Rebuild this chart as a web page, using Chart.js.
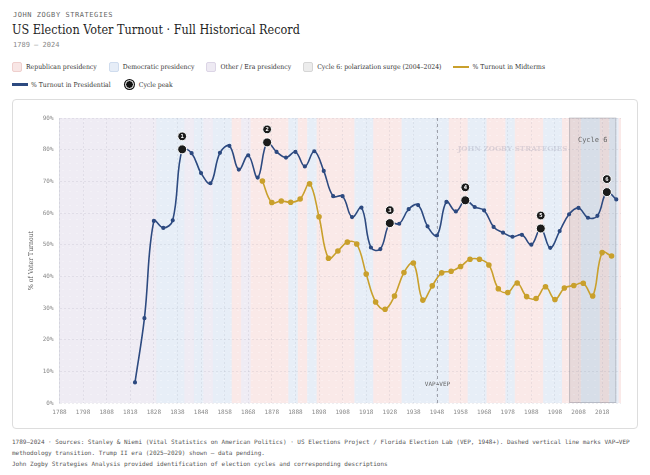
<!DOCTYPE html>
<html>
<head>
<meta charset="utf-8">
<script src="https://cdn.jsdelivr.net/npm/chart.js@4.4.0/dist/chart.umd.min.js"></script>
<style>
  body { margin: 0; background: #fff; width: 650px; height: 475px; position: relative; overflow: hidden; color: #222; }
  .serif { font-family: "DejaVu Serif Condensed", "DejaVu Serif", serif; }
  .mono { font-family: "DejaVu Sans Mono", monospace; }
  #brand { position: absolute; left: 13px; top: 11px; font-size: 7px; letter-spacing: 0.55px; color: #666; }
  #title { position: absolute; left: 12px; top: 22px; margin: 0; font-weight: normal; font-size: 12.5px; color: #1f1f1f; white-space: nowrap; }
  #range { position: absolute; left: 13px; top: 41px; font-size: 7px; color: #888; }
  .legrow { position: absolute; left: 12px; display: flex; align-items: center; font-size: 6.8px; color: #333; white-space: nowrap; }
  .item { display: flex; align-items: center; margin-right: 12px; }
  .box { width: 10px; height: 10px; border-radius: 2px; margin-right: 4px; box-sizing: border-box; }
  .ln { width: 16px; height: 2.5px; margin-right: 3px; }
  .dot { width: 7px; height: 7px; border-radius: 50%; background: #111; border: 1.5px solid #fff; box-shadow: 0 0 0 1px #111; margin: 0 5px 0 2px; }
  #card { position: absolute; left: 12px; top: 99px; width: 624px; height: 328px; border: 1px solid #ddd; border-radius: 4px; }
  #foot { position: absolute; left: 12px; top: 436px; font-size: 6px; line-height: 11px; color: #555; width: 630px; }
</style>
</head>
<body>
<div id="brand" class="mono">JOHN ZOGBY STRATEGIES</div>
<h1 id="title" class="serif">US Election Voter Turnout · Full Historical Record</h1>
<div id="range" class="mono">1789 – 2024</div>
<div class="legrow serif" style="top:62px">
  <div class="item"><span class="box" style="background:#f8e6e5;border:1px solid #efcfcd"></span>Republican presidency</div>
  <div class="item"><span class="box" style="background:#e6edf7;border:1px solid #cfdcee"></span>Democratic presidency</div>
  <div class="item"><span class="box" style="background:#eeeaf3;border:1px solid #dcd5e6"></span>Other / Era presidency</div>
  <div class="item"><span class="box" style="background:#ececec;border:1px solid #d6d6d6"></span>Cycle 6: polarization surge (2004–2024)</div>
  <div class="item"><span class="ln" style="background:#c9a02c"></span>% Turnout in Midterms</div>
</div>
<div class="legrow serif" style="top:80px">
  <div class="item"><span class="ln" style="background:#2d4a80"></span>% Turnout in Presidential</div>
  <div class="item"><span class="dot"></span>Cycle peak</div>
</div>
<div id="card"><canvas id="myChart" width="624" height="328"></canvas></div>
<div id="foot" class="mono">1789–2024 · Sources: Stanley &amp; Niemi (Vital Statistics on American Politics) · US Elections Project / Florida Election Lab (VEP, 1948+). Dashed vertical line marks VAP→VEP<br>methodology transition. Trump II era (2025–2029) shown — data pending.<br>John Zogby Strategies Analysis provided identification of election cycles and corresponding descriptions</div>

<script>
var presYears = [1820, 1824, 1828, 1832, 1836, 1840, 1844, 1848, 1852, 1856, 1860, 1864, 1868, 1872, 1876,
  1880, 1884, 1888, 1892, 1896, 1900, 1904, 1908, 1912, 1916, 1920, 1924, 1928, 1932, 1936, 1940, 1944,
  1948, 1952, 1956, 1960, 1964, 1968, 1972, 1976, 1980, 1984, 1988, 1992, 1996, 2000, 2004, 2008, 2012,
  2016, 2020, 2024]
var presTurnout = [6.5, 26.8, 57.5, 55.3, 57.7, 80.1, 78.9, 72.6, 69.4, 79.0, 81.2, 73.7, 78.2, 71.2, 82.3,
  79.3, 77.5, 79.3, 74.7, 79.5, 73.3, 65.3, 65.3, 58.7, 61.7, 49.1, 48.6, 56.8, 56.6, 61.2, 62.5, 55.8,
  52.9, 63.5, 60.5, 64.0, 61.9, 60.8, 55.6, 53.8, 52.5, 53.1, 50.0, 55.1, 49.0, 54.3, 59.6, 61.6, 58.5,
  59.1, 66.6, 64.3]
var midYears = [1874, 1878, 1882, 1886, 1890, 1894, 1898, 1902, 1906, 1910, 1914, 1918, 1922, 1926, 1930,
  1934, 1938, 1942, 1946, 1950, 1954, 1958, 1962, 1966, 1970, 1974, 1978, 1982, 1986, 1990, 1994, 1998,
  2002, 2006, 2010, 2014, 2018, 2022]
var midTurnout = [70.1, 63.3, 63.8, 63.4, 64.4, 69.2, 58.8, 45.7, 48.0, 50.8, 50.2, 40.7, 31.9, 29.6, 33.8,
  41.2, 44.2, 32.5, 37.0, 41.1, 41.6, 43.1, 45.4, 45.4, 43.6, 36.1, 34.9, 37.9, 33.6, 33.0, 36.7, 32.7,
  36.3, 37.1, 37.8, 33.8, 47.5, 46.4]

var xTickYears = [1788, 1798, 1808, 1818, 1828, 1838, 1848, 1858, 1868, 1878, 1888, 1898, 1908, 1918,
  1928, 1938, 1948, 1958, 1968, 1978, 1988, 1998, 2008, 2018]
var yTickValues = [0, 10, 20, 30, 40, 50, 60, 70, 80, 90]

// presidencies: start year and party (R, D, O = other / era)
var termStarts = [1789, 1829, 1841, 1845, 1849, 1853, 1861, 1865, 1869, 1885, 1889, 1893, 1897, 1913,
  1921, 1933, 1953, 1961, 1969, 1977, 1981, 1993, 2001, 2009, 2017, 2021, 2025]
var termParty = ['O', 'D', 'O', 'D', 'O', 'D', 'R', 'O', 'R', 'D', 'R', 'D', 'R', 'D',
  'R', 'D', 'R', 'D', 'R', 'D', 'R', 'D', 'R', 'D', 'R', 'D', 'R']
var lastTermEnd = 2029

var peakYears = [1840, 1876, 1928, 1960, 1992, 2020]
var cycle6Span = [2004, 2024]
var methodYear = 1948

var bandColor = { R: 'rgba(226,140,132,0.19)', D: 'rgba(128,163,212,0.19)', O: 'rgba(160,140,190,0.17)' }
var navy = '#2d4a80'
var gold = '#c9a02c'
var mono = '"DejaVu Sans Mono", monospace'
var serif = '"DejaVu Serif Condensed", "DejaVu Serif", serif'

var overlays = {
  id: 'overlays',
  beforeDraw(chart) {
    var ctx = chart.ctx, a = chart.chartArea, x = chart.scales.x
    ctx.save()
    ctx.beginPath()
    ctx.rect(a.left, a.top, a.width, a.height)
    ctx.clip()
    for (var i = 0; i < termStarts.length; i++) {
      var x0 = x.getPixelForValue(i == 0 ? x.min : termStarts[i])
      var x1 = x.getPixelForValue(i < termStarts.length - 1 ? termStarts[i + 1] : lastTermEnd)
      ctx.fillStyle = bandColor[termParty[i]]
      ctx.fillRect(x0, a.top, x1 - x0, a.height)
    }
    // faint dotted texture
    ctx.fillStyle = 'rgba(255,255,255,0.55)'
    for (var px = a.left + 3; px < a.right; px += 7) {
      for (var py = a.top + 3; py < a.bottom; py += 7) ctx.fillRect(px, py, 1, 1)
    }
    ctx.restore()
  },
  beforeDatasetsDraw(chart) {
    var ctx = chart.ctx, a = chart.chartArea, x = chart.scales.x
    ctx.save()
    // cycle 6 box
    var c0 = x.getPixelForValue(cycle6Span[0]), c1 = x.getPixelForValue(cycle6Span[1])
    ctx.fillStyle = 'rgba(95,105,125,0.12)'
    ctx.fillRect(c0, a.top, c1 - c0, a.height)
    ctx.strokeStyle = 'rgba(120,120,135,0.35)'
    ctx.lineWidth = 1
    ctx.strokeRect(c0 + 0.5, a.top, c1 - c0 - 1, a.height - 0.5)
    ctx.fillStyle = '#666'
    ctx.font = '7px ' + mono
    ctx.textAlign = 'center'
    ctx.textBaseline = 'middle'
    ctx.fillText('Cycle 6', (c0 + c1) / 2, a.top + 22)
    // VAP -> VEP line
    var m = Math.round(x.getPixelForValue(methodYear)) + 0.5
    ctx.strokeStyle = 'rgba(110,110,120,0.6)'
    ctx.setLineDash([3, 3])
    ctx.beginPath()
    ctx.moveTo(m, a.top)
    ctx.lineTo(m, a.bottom)
    ctx.stroke()
    ctx.setLineDash([])
    ctx.fillStyle = '#666'
    ctx.font = '6px ' + mono
    ctx.fillText('VAP→VEP', m, a.bottom - 19)
    // watermark
    ctx.fillStyle = 'rgba(140,140,165,0.28)'
    ctx.font = 'bold 8px ' + serif
    ctx.fillText('JOHN ZOGBY STRATEGIES', a.left + a.width * 0.807, a.top + 31)
    ctx.restore()
  },
  afterDatasetsDraw(chart) {
    var ctx = chart.ctx, x = chart.scales.x, y = chart.scales.y
    ctx.save()
    for (var i = 0; i < peakYears.length; i++) {
      var v = presTurnout[presYears.indexOf(peakYears[i])]
      var px = x.getPixelForValue(peakYears[i]), py = y.getPixelForValue(v)
      ctx.fillStyle = '#1b1b1b'
      ctx.strokeStyle = '#fff'
      ctx.lineWidth = 1
      ctx.beginPath()
      ctx.arc(px, py, 4.5, 0, Math.PI * 2)
      ctx.fill()
      ctx.stroke()
      ctx.beginPath()
      ctx.arc(px, py - 13, 4.4, 0, Math.PI * 2)
      ctx.fill()
      ctx.stroke()
      ctx.fillStyle = '#fff'
      ctx.font = 'bold 5.5px ' + mono
      ctx.textAlign = 'center'
      ctx.textBaseline = 'middle'
      ctx.fillText(String(i + 1), px, py - 12.7)
    }
    ctx.restore()
  }
}

var ctx = document.getElementById('myChart').getContext('2d')
var chart = new Chart(ctx, {
  type: 'line',
  data: {
    datasets: [{
      label: '% Turnout in Presidential',
      data: presYears.map((yr, i) => ({ x: yr, y: presTurnout[i] })),
      borderColor: navy,
      backgroundColor: navy,
      borderWidth: 1.6,
      pointRadius: 1.3,
      tension: 0.4
    }, {
      label: '% Turnout in Midterms',
      data: midYears.map((yr, i) => ({ x: yr, y: midTurnout[i] })),
      borderColor: gold,
      backgroundColor: gold,
      borderWidth: 1.6,
      pointRadius: 2,
      tension: 0.4
    }]
  },
  options: {
    responsive: false,
    animation: false,
    layout: { padding: { left: 0, top: 18, right: 16, bottom: 0 } },
    plugins: { legend: { display: false }, tooltip: { enabled: false } },
    scales: {
      x: {
        type: 'linear',
        min: 1788,
        max: 2026,
        afterBuildTicks: (scale) => { scale.ticks = xTickYears.map(v => ({ value: v })) },
        afterFit: (scale) => { scale.height = 25 },
        ticks: { color: '#888', font: { family: mono, size: 6 }, padding: 6, maxRotation: 0, autoSkip: false,
          callback: (v) => String(v) },
        grid: { color: 'rgba(120,120,150,0.13)', drawTicks: false },
        border: { display: false, dash: [2, 2] }
      },
      y: {
        min: 0,
        max: 90,
        afterBuildTicks: (scale) => { scale.ticks = yTickValues.map(v => ({ value: v })) },
        afterFit: (scale) => { scale.width = 46.5 },
        ticks: { color: '#888', font: { family: mono, size: 6 }, padding: 6, callback: (v) => v + '%' },
        grid: { color: 'rgba(120,120,150,0.13)', drawTicks: false },
        border: { display: true, color: 'rgba(120,120,150,0.2)', dash: [2, 2] },
        title: { display: true, text: '% of Voter Turnout', color: '#555', font: { family: serif, size: 6.8 }, padding: { top: 14, bottom: 0 } }
      }
    }
  },
  plugins: [overlays]
})
</script>
</body>
</html>
